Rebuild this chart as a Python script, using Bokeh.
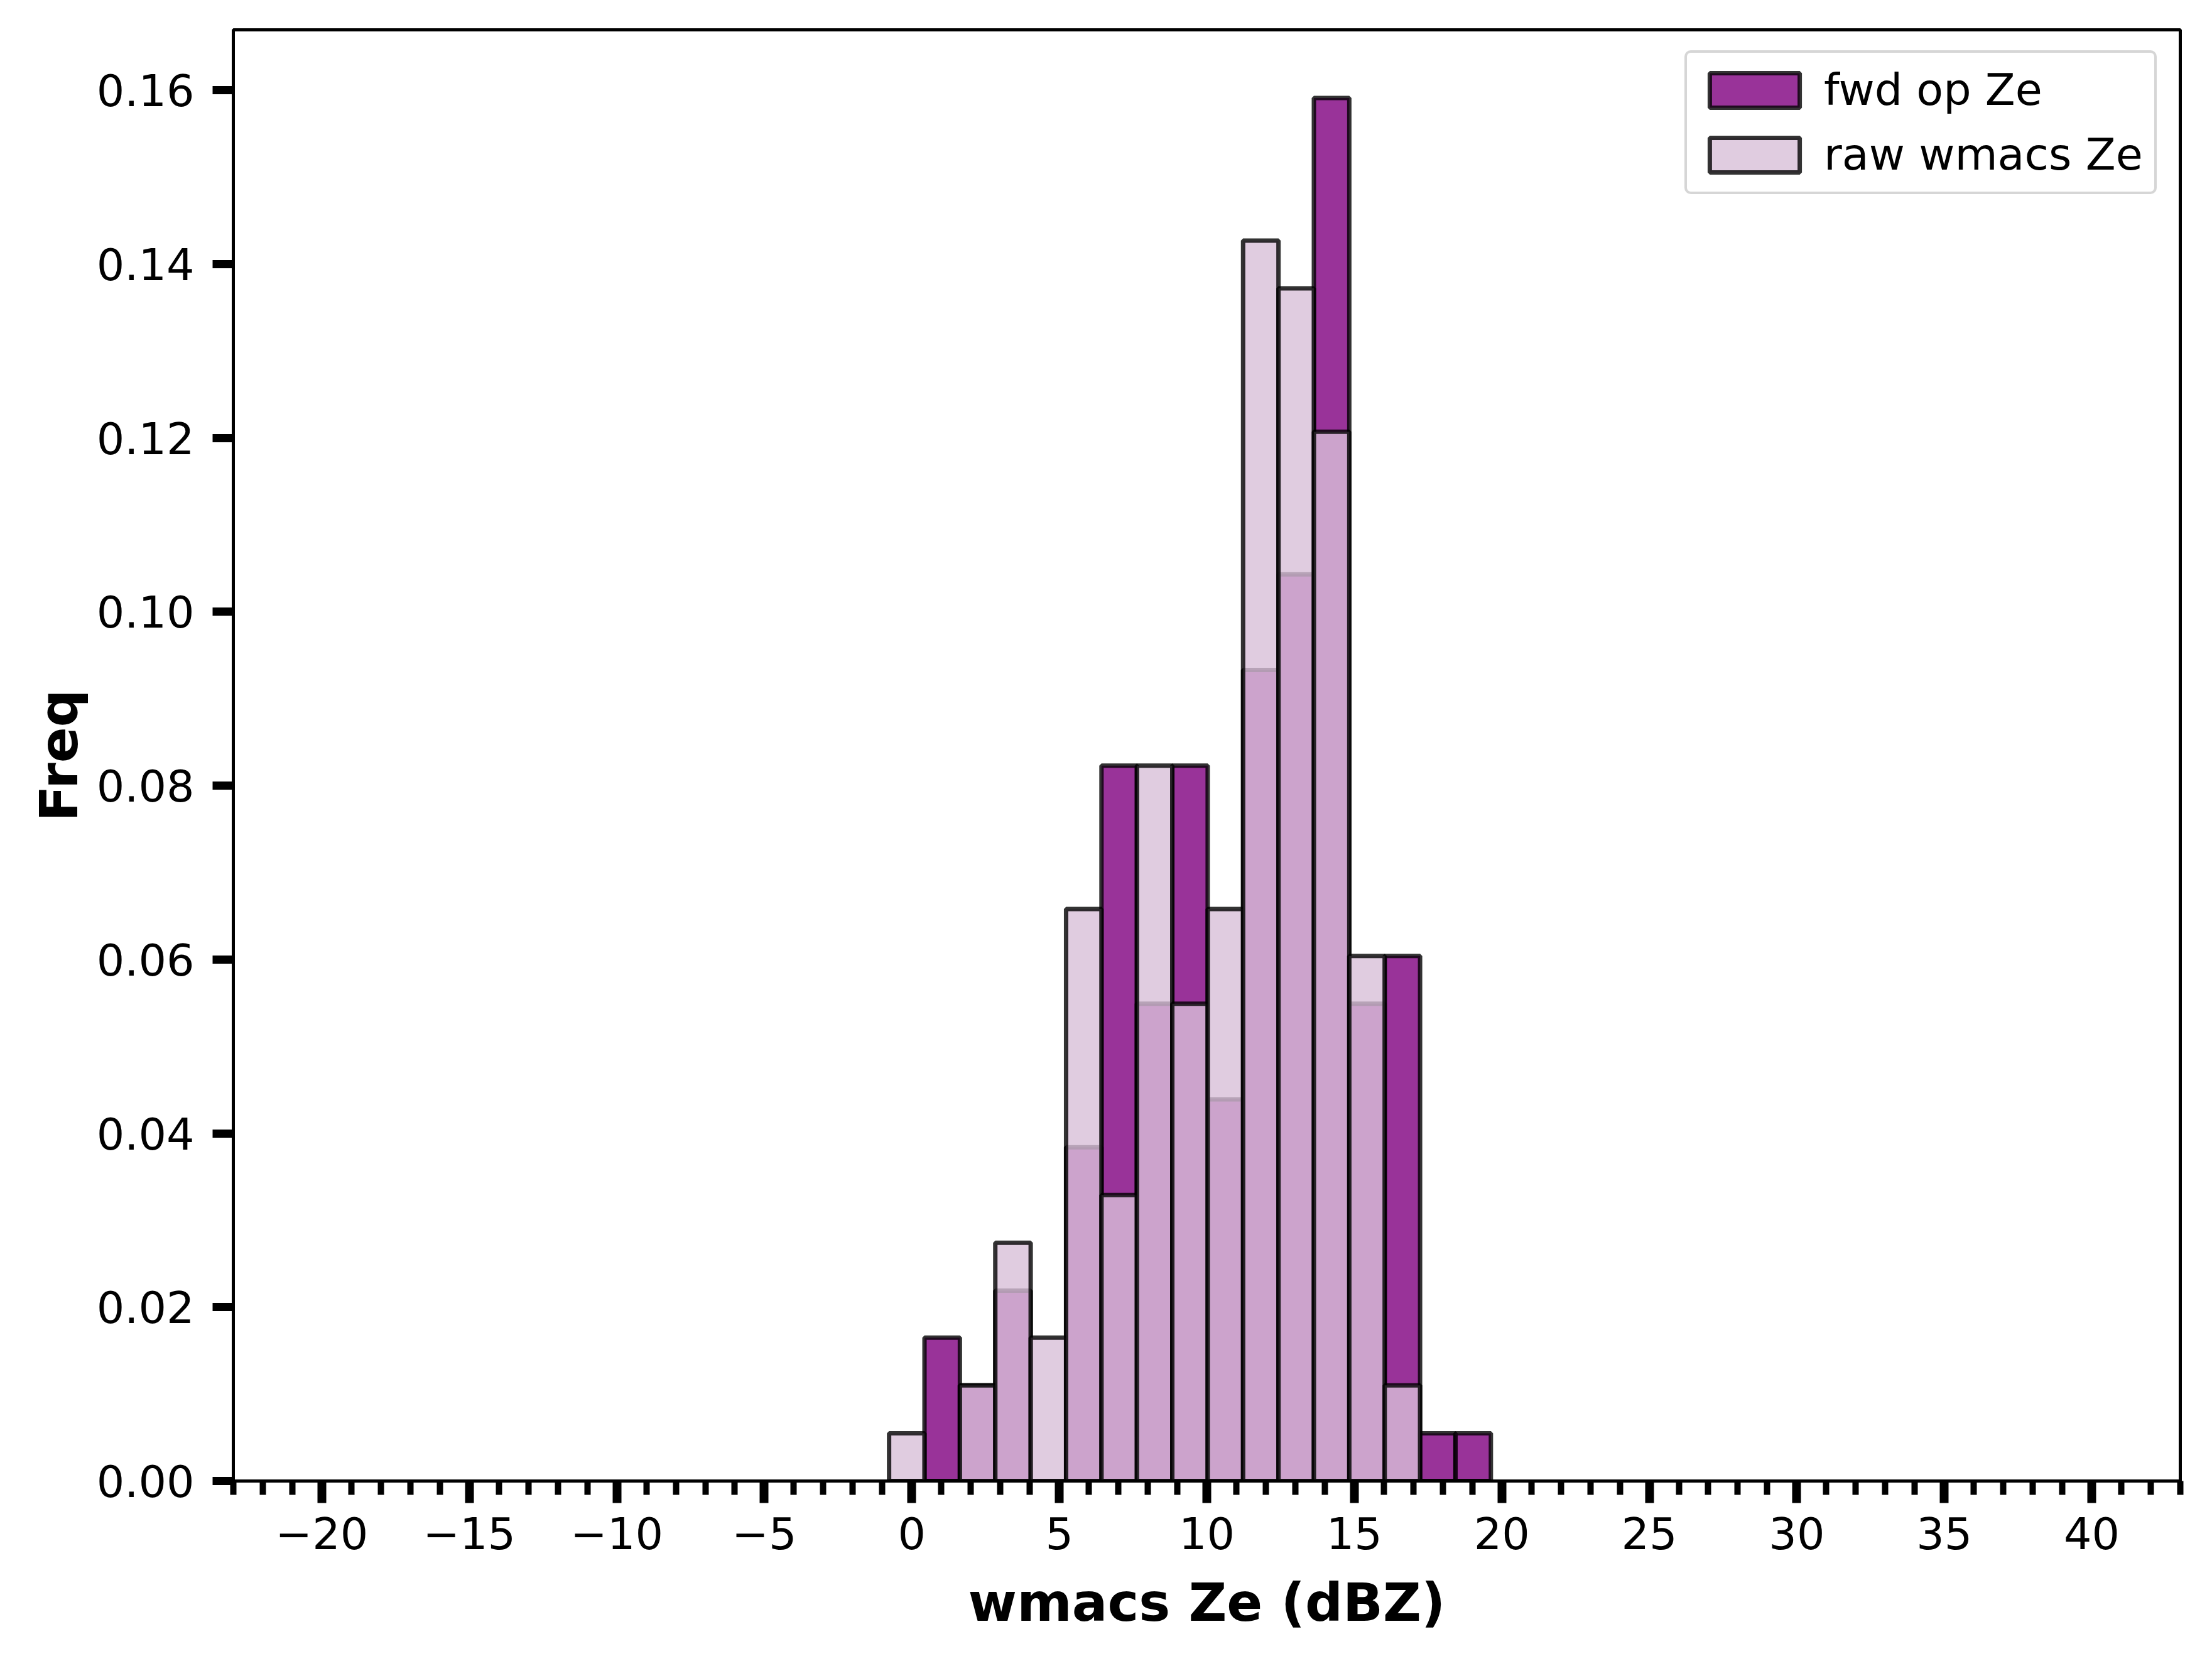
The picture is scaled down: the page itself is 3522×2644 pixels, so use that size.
from bokeh.plotting import figure
from bokeh.models import Range1d, FixedTicker, NumeralTickFormatter, ColumnDataSource, Legend, LegendItem
from bokeh.embed import file_html
from bokeh.resources import INLINE

# ---- data ----
bin_edges = [-0.77, 0.43, 1.63, 2.83, 4.03, 5.23, 6.43, 7.63, 8.83, 10.03,
             11.23, 12.43, 13.63, 14.83, 16.03, 17.23, 18.43, 19.63]
fwd_density = [0.0, 0.0165, 0.0110, 0.0219, 0.0, 0.0384, 0.0823, 0.0549, 0.0823,
               0.0439, 0.0933, 0.1043, 0.1591, 0.0549, 0.0604, 0.0055, 0.0055]
raw_density = [0.0055, 0.0, 0.0110, 0.0274, 0.0165, 0.0658, 0.0329, 0.0823, 0.0549,
               0.0658, 0.1427, 0.1372, 0.1207, 0.0604, 0.0110, 0.0, 0.0]
x_major_ticks = [-20, -15, -10, -5, 0, 5, 10, 15, 20, 25, 30, 35, 40]
x_minor_ticks = list(range(-23, 44))
y_ticks = [0.0, 0.02, 0.04, 0.06, 0.08, 0.10, 0.12, 0.14, 0.16]
series_labels = ["fwd op Ze", "raw wmacs Ze"]
x_label = "wmacs Ze (dBZ)"
y_label = "Freq"

lefts = bin_edges[:-1]
rights = bin_edges[1:]

p = figure(width=3506, height=2628, output_backend="svg", toolbar_location=None,
           x_range=Range1d(-23, 43), y_range=Range1d(0, 0.16694),
           min_border_left=371, min_border_right=35, min_border_top=47, min_border_bottom=271)
p.background_fill_color = "white"
p.border_fill_color = "white"
p.outline_line_color = "black"
p.outline_line_width = 5
p.xgrid.visible = False
p.ygrid.visible = False

src_fwd = ColumnDataSource(dict(left=lefts, right=rights, top=fwd_density, bottom=[0.0] * len(lefts)))
src_raw = ColumnDataSource(dict(left=lefts, right=rights, top=raw_density, bottom=[0.0] * len(lefts)))

r_fwd = p.quad(left="left", right="right", top="top", bottom="bottom", source=src_fwd,
               fill_color="purple", fill_alpha=0.8, line_color="black", line_alpha=0.8, line_width=7)
r_raw = p.quad(left="left", right="right", top="top", bottom="bottom", source=src_raw,
               fill_color="thistle", fill_alpha=0.8, line_color="black", line_alpha=0.8, line_width=7)

# axes
xa = p.xaxis[0]
xa.ticker = FixedTicker(ticks=x_major_ticks, minor_ticks=x_minor_ticks)
xa.major_label_overrides = {t: (("\u2212" + str(-t)) if t < 0 else str(t)) for t in x_major_ticks}
ya = p.yaxis[0]
ya.ticker = FixedTicker(ticks=y_ticks, minor_ticks=[])
ya.formatter = NumeralTickFormatter(format="0.00")

for ax in (xa, ya):
    ax.axis_line_width = 5
    ax.axis_line_color = "black"
    ax.major_tick_in = 0
    ax.minor_tick_in = 0
    ax.major_tick_line_color = "black"
    ax.minor_tick_line_color = "black"
    ax.major_label_text_font = "DejaVu Sans"
    ax.major_label_text_font_size = "70px"
    ax.major_label_text_color = "black"
    ax.axis_label_text_font = "DejaVu Sans"
    ax.axis_label_text_font_size = "84px"
    ax.axis_label_text_font_style = "bold"
    ax.axis_label_text_color = "black"

xa.major_tick_out = 35
xa.major_tick_line_width = 14
xa.minor_tick_out = 22
xa.minor_tick_line_width = 10
xa.major_label_standoff = 22
xa.axis_label = x_label
xa.axis_label_standoff = 33

ya.major_tick_out = 33
ya.major_tick_line_width = 13
ya.minor_tick_out = 0
ya.major_label_standoff = 29
ya.axis_label = y_label
ya.axis_label_standoff = 8

legend = Legend(items=[LegendItem(label=series_labels[0], renderers=[r_fwd]),
                       LegendItem(label=series_labels[1], renderers=[r_raw])],
                location=(2311, 2048), margin=0)
legend.label_text_font = "DejaVu Sans"
legend.label_text_font_size = "70px"
legend.label_text_color = "black"
legend.glyph_width = 179
legend.glyph_height = 69
legend.label_standoff = 21
legend.padding = 18
legend.spacing = 21
legend.border_line_color = "#cccccc"
legend.border_line_alpha = 0.8
legend.border_line_width = 4
legend.background_fill_color = "white"
legend.background_fill_alpha = 0.8
try:
    legend.border_radius = 10
except Exception:
    pass
p.add_layout(legend)

open("out.html", "w").write(file_html(p, INLINE))
